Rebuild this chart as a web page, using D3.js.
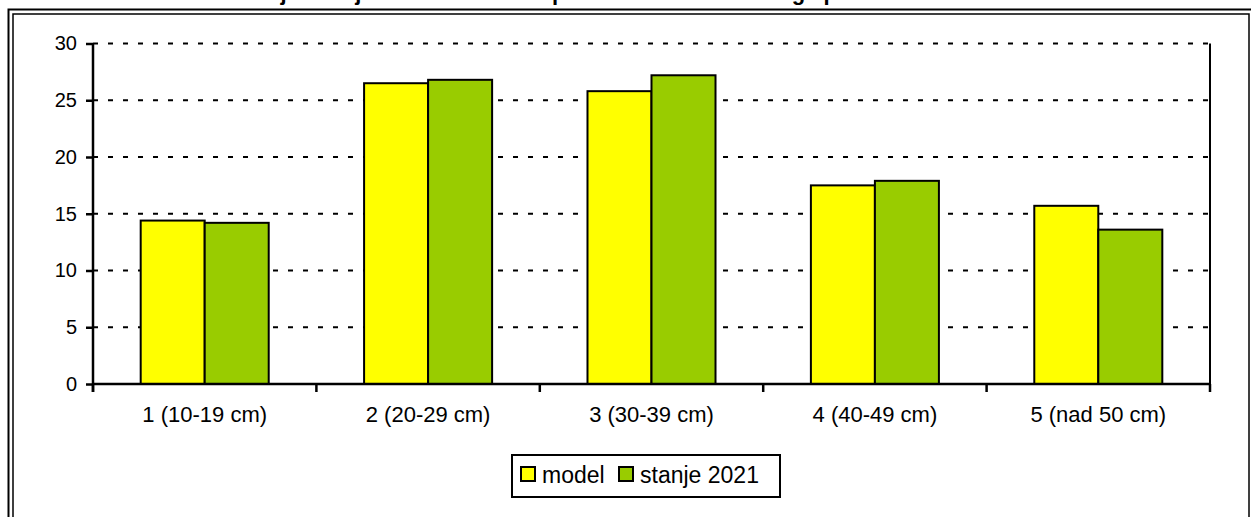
<!DOCTYPE html>
<html>
<head>
<meta charset="utf-8">
<script src="https://cdn.jsdelivr.net/npm/d3@7"></script>
<style>
  html, body { margin: 0; padding: 0; background: #fff; }
  svg { display: block; font-family: "Liberation Sans", Arial, sans-serif; }
</style>
</head>
<body>
<svg id="chart" width="1251" height="517"></svg>
<script>
// Diameter classes and the two compared distributions (%)
const categories = ["1 (10-19 cm)", "2 (20-29 cm)", "3 (30-39 cm)", "4 (40-49 cm)", "5 (nad 50 cm)"];
const seriesNames = ["model", "stanje 2021"];
const modelValues = [14.4, 26.5, 25.8, 17.5, 15.7];
const stanjeValues = [14.2, 26.8, 27.2, 17.9, 13.6];
const seriesColors = ["#ffff00", "#99cc00"];
const yTicks = [0, 5, 10, 15, 20, 25, 30];
const titleText = "Primerjava dejanske in modelne porazdelitve lesne zaloge po debelinskih razredih";

const svg = d3.select("#chart");

// chart-area double frame
svg.append("rect").attr("x", 8.5).attr("y", 9.5).attr("width", 1260).attr("height", 540)
  .attr("fill", "none").attr("stroke", "#000").attr("stroke-width", 2);
svg.append("rect").attr("x", 13).attr("y", 14).attr("width", 1236).attr("height", 540)
  .attr("fill", "#fff").attr("stroke", "#000").attr("stroke-width", 1.5);

// title, sitting above the frame
svg.append("text").attr("x", 640).attr("y", -0.5).attr("text-anchor", "middle")
  .attr("font-size", 22).attr("font-weight", "bold").text(titleText);

const plot = { left: 93, right: 1210, top: 43.5, bottom: 384 };

const x = d3.scaleBand().domain(categories).range([plot.left, plot.right]).paddingInner(0).paddingOuter(0);
const xInner = d3.scaleBand().domain(seriesNames).range([0, x.bandwidth()]).paddingInner(0).paddingOuter(0.745);
const y = d3.scaleLinear().domain([0, 30]).range([plot.bottom, plot.top]);

// dashed gridlines
svg.append("g").selectAll("line").data(yTicks.filter(d => d > 0)).join("line")
  .attr("x1", plot.left).attr("x2", plot.right)
  .attr("y1", d => y(d)).attr("y2", d => y(d))
  .attr("stroke", "#000").attr("stroke-width", 2).attr("stroke-dasharray", "5,10");

// right border of plot
svg.append("line").attr("x1", plot.right).attr("x2", plot.right)
  .attr("y1", y(30)).attr("y2", plot.bottom)
  .attr("stroke", "#000").attr("stroke-width", 2);

// bars
const rows = categories.map((c, i) => ({ c, vals: [modelValues[i], stanjeValues[i]] }));
const groups = svg.append("g").selectAll("g").data(rows).join("g")
  .attr("transform", d => `translate(${x(d.c)},0)`);
groups.selectAll("rect").data(d => d.vals.map((v, j) => ({ v, s: seriesNames[j], j }))).join("rect")
  .attr("x", d => xInner(d.s)).attr("width", xInner.bandwidth())
  .attr("y", d => y(d.v)).attr("height", d => y(0) - y(d.v))
  .attr("fill", d => seriesColors[d.j]).attr("stroke", "#000").attr("stroke-width", 2);

// y axis
const yAxis = svg.append("g").attr("transform", `translate(${plot.left},0)`)
  .call(d3.axisLeft(y).tickValues(yTicks).tickSize(7).tickPadding(9));
yAxis.select(".domain").attr("stroke-width", 2.5).attr("d", `M0,${plot.bottom + 8}V${y(30)}`);
yAxis.selectAll(".tick line").attr("stroke-width", 2.5);
yAxis.selectAll(".tick text").attr("font-size", 20).attr("font-family", "Liberation Sans, Arial, sans-serif").attr("fill", "#000");

// x axis: category labels plus boundary ticks
const xAxis = svg.append("g").attr("transform", `translate(0,${plot.bottom})`)
  .call(d3.axisBottom(x).tickSize(0).tickPadding(22));
xAxis.select(".domain").attr("stroke-width", 2.5).attr("d", `M${plot.left},0H${plot.right}`);
xAxis.selectAll(".tick text").attr("font-size", 22).attr("font-family", "Liberation Sans, Arial, sans-serif").attr("fill", "#000");
const bounds = categories.map(c => x(c)).concat([x.range()[1]]);
xAxis.append("g").selectAll("line").data(bounds).join("line")
  .attr("x1", d => d).attr("x2", d => d).attr("y1", 0).attr("y2", 8)
  .attr("stroke", "#000").attr("stroke-width", 2.5);

// legend
const legend = svg.append("g").attr("transform", "translate(512,455)");
legend.append("rect").attr("width", 268).attr("height", 42)
  .attr("fill", "#fff").attr("stroke", "#000").attr("stroke-width", 2);
const legendX = [9, 107];
seriesNames.forEach((s, i) => {
  const g = legend.append("g").attr("transform", `translate(${legendX[i]},12)`);
  g.append("rect").attr("width", 14).attr("height", 14)
    .attr("fill", seriesColors[i]).attr("stroke", "#000").attr("stroke-width", 2);
  g.append("text").attr("x", 21).attr("y", 15.5).attr("font-size", 23).attr("fill", "#000").text(s);
});
</script>
</body>
</html>
